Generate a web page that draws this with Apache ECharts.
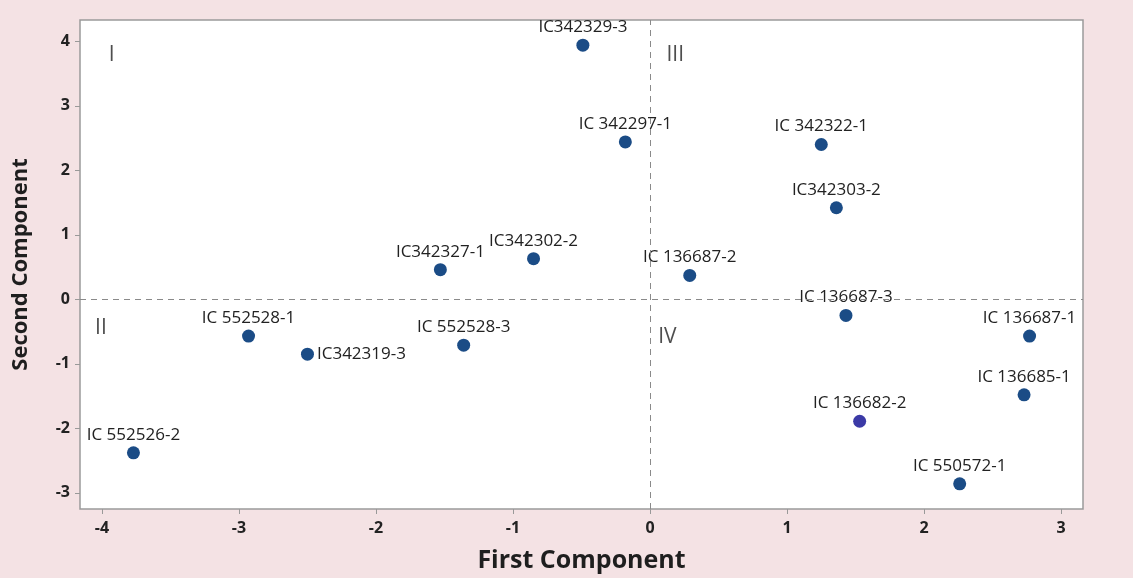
<!DOCTYPE html>
<html>
<head>
<meta charset="utf-8">
<script src="https://cdn.jsdelivr.net/npm/echarts@6/dist/echarts.min.js"></script>
<style>
html,body{margin:0;padding:0;background:#f4e2e4;}
#chart{width:1133px;height:578px;}
</style>
</head>
<body>
<div id="chart"></div>
<script>
const names = ['IC342329-3','IC 342297-1','IC 342322-1','IC342303-2','IC342327-1','IC342302-2','IC 136687-2','IC 136687-3','IC 136687-1','IC 136685-1','IC 136682-2','IC 550572-1','IC 552528-1','IC342319-3','IC 552528-3','IC 552526-2'];
const firstComp  = [-0.49,-0.18,1.25,1.36,-1.53,-0.85,0.29,1.43,2.77,2.73,1.53,2.26,-2.93,-2.50,-1.36,-3.77];
const secondComp = [3.94,2.44,2.40,1.42,0.46,0.63,0.37,-0.25,-0.57,-1.48,-1.89,-2.86,-0.57,-0.85,-0.71,-2.38];
const labelSide  = ['top','top','top','top','top','top','top','top','top','top','top','top','top','right','top','top'];
const quadNames = ['I','III','II','IV'];
const quadX = [-3.95,0.12,-4.05,0.06];
const quadY = [3.78,3.78,-0.45,-0.58];
const xTicks = [-4,-3,-2,-1,0,1,2,3];
const yTicks = [-3,-2,-1,0,1,2,3,4];

const font = 'Open Sans';
const pts = names.map((n,i)=>({
  name:n, value:[firstComp[i],secondComp[i]],
  itemStyle:{color: n==='IC 136682-2' ? '#3b3aa6' : '#1b4c86', opacity:1},
  label:{position:labelSide[i]}
}));
const quads = quadNames.map((n,i)=>({name:n,value:[quadX[i],quadY[i]]}));

const chart = echarts.init(document.getElementById('chart'));
chart.setOption({
  backgroundColor:'#f4e2e4',
  animation:false,
  grid:{left:80,top:20,right:50,bottom:68,show:true,backgroundColor:'#ffffff',borderColor:'#9a9a9a',borderWidth:1.5},
  xAxis:{
    type:'value',min:-4.16,max:3.16,
    name:'First Component',nameLocation:'middle',nameGap:39,
    nameTextStyle:{fontFamily:font,fontWeight:'bold',fontSize:25,color:'#1e1e1e'},
    axisLine:{show:false,onZero:false},
    splitLine:{show:false},
    axisTick:{show:true,customValues:xTicks,length:5,lineStyle:{color:'#999'}},
    axisLabel:{customValues:xTicks,fontFamily:font,fontWeight:'bold',fontSize:16,color:'#222',margin:11}
  },
  yAxis:{
    type:'value',min:-3.25,max:4.33,
    name:'Second Component',nameLocation:'middle',nameGap:48,
    nameTextStyle:{fontFamily:font,fontWeight:'bold',fontSize:22,color:'#1e1e1e'},
    axisLine:{show:false,onZero:false},
    splitLine:{show:false},
    axisTick:{show:true,customValues:yTicks,length:5,lineStyle:{color:'#999'}},
    axisLabel:{customValues:yTicks,fontFamily:font,fontWeight:'bold',fontSize:16,color:'#222',margin:10}
  },
  series:[
    {
      type:'scatter',
      data:pts,
      symbolSize:13,
      label:{show:true,formatter:p=>p.name,fontFamily:font,fontSize:17,color:'#222',distance:3},
      markLine:{
        silent:true,symbol:'none',
        label:{show:false},
        lineStyle:{type:[6,5],color:'#8a8a8a',width:1},
        data:[{xAxis:0},{yAxis:0}]
      },
      z:3
    },
    {
      type:'scatter',
      data:quads,
      symbolSize:0,
      label:{show:true,position:'inside',formatter:p=>p.name,fontFamily:font,fontSize:21,color:'#222',align:'left'},
      z:2
    }
  ]
});
</script>
</body>
</html>
